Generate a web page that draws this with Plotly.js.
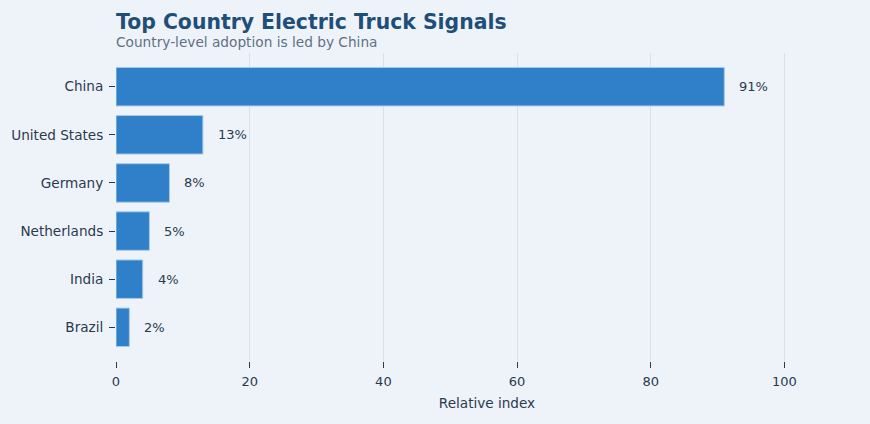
<!DOCTYPE html>
<html>
<head>
<meta charset="utf-8">
<script src="https://cdn.plot.ly/plotly-3.0.1.min.js"></script>
<style>
  html, body { margin: 0; padding: 0; background: #eef3fa; }
  #chart { width: 870px; height: 424px; }
</style>
</head>
<body>
<div id="chart"></div>
<script>
// data
var countries = ['China', 'United States', 'Germany', 'Netherlands', 'India', 'Brazil'];
var values = [91, 13, 8, 5, 4, 2];
var labels = ['91%', '13%', '8%', '5%', '4%', '2%'];

var trace = {
    type: 'bar',
    orientation: 'h',
    x: values,
    y: countries,
    marker: {
        color: '#2f80c9',
        line: { color: '#a9c9e8', width: 1 }
    },
    hoverinfo: 'x+y'
};

// value labels to the right of each bar
var notes = countries.map(function(c, i) {
    return {
        x: values[i], y: c,
        xref: 'x', yref: 'y',
        text: labels[i],
        xanchor: 'left', yanchor: 'middle',
        xshift: 13,
        showarrow: false,
        font: { size: 13, color: '#2a3a4d' }
    };
});

// subtitle under the main title
notes.push({
    text: 'Country-level adoption is led by China',
    xref: 'paper', yref: 'paper',
    x: 0, y: (424 - 63 - 42) / 308,
    xanchor: 'left', yanchor: 'middle',
    xshift: -2,
    showarrow: false,
    font: { size: 13.7, color: '#5f7083' }
});

var layout = {
    width: 870,
    height: 424,
    paper_bgcolor: '#eef3fa',
    plot_bgcolor: '#eef3fa',
    font: { family: 'DejaVu Sans, sans-serif', size: 13, color: '#2a3a4d' },
    title: {
        text: '<b>Top Country Electric Truck Signals</b>',
        font: { size: 20.4, color: '#1f4e79' },
        x: 116 / 870,
        xanchor: 'left',
        xref: 'container',
        y: 1 - 22 / 424,
        yanchor: 'middle',
        yref: 'container'
    },
    annotations: notes,
    bargap: 0.2,
    margin: { l: 116, r: 12, t: 53, b: 63 },
    xaxis: {
        range: [0, 111],
        tickvals: [0, 20, 40, 60, 80, 100],
        showgrid: true,
        gridcolor: '#d8e0ea',
        zeroline: false,
        showline: false,
        ticks: 'outside',
        ticklen: 6,
        tickcolor: '#2a3a4d',
        ticklabelstandoff: 2,
        tickfont: { size: 13 },
        title: { text: 'Relative index', font: { size: 13.6 }, standoff: 10 }
    },
    yaxis: {
        range: [5.7, -0.7],
        showgrid: false,
        zeroline: false,
        showline: false,
        ticks: 'outside',
        ticklen: 6,
        tickcolor: '#2a3a4d',
        ticklabelstandoff: 3,
        tickfont: { size: 13.6 }
    },
    showlegend: false
};

Plotly.newPlot('chart', [trace], layout, { displayModeBar: false, staticPlot: true });
</script>
</body>
</html>
